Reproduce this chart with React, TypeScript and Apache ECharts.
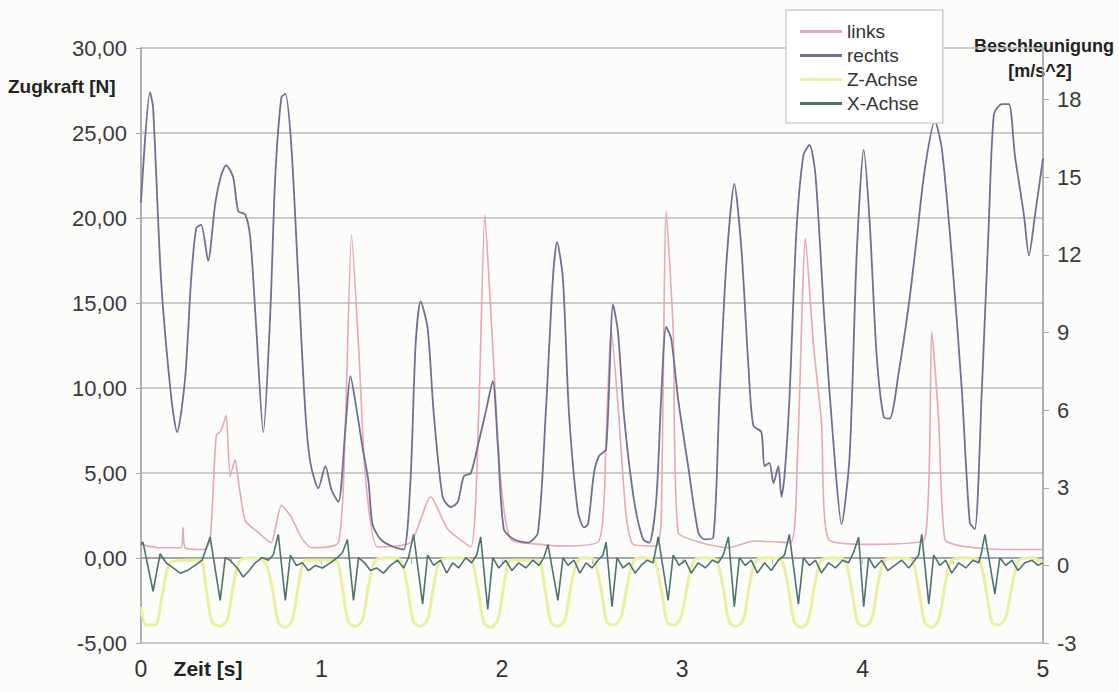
import React, { useEffect, useRef } from "react";
import * as echarts from "echarts";

// Zugkraft [N] (left axis)
const rechtsData: [number, number][] = [
  [0.000,20.9],[0.050,27.4],[0.067,26.5],[0.111,16.4],[0.167,9.5],[0.200,7.4],[0.244,10.5],[0.278,16.4],[0.306,19.4],[0.333,19.6],[0.372,17.5],[0.411,20.8],[0.444,22.5],[0.472,23.1],[0.511,22.4],[0.539,20.4],[0.578,20.2],[0.606,18.8],[0.639,13.5],[0.678,7.4],[0.717,14.5],[0.744,22.4],[0.778,27.1],[0.800,27.3],[0.833,24.3],[0.872,16.4],[0.911,8.6],[0.939,5.6],[0.983,4.1],[1.022,5.4],[1.056,4.0],[1.094,3.3],[1.133,7.6],[1.161,10.7],[1.194,8.8],[1.228,6.5],[1.261,4.5],[1.283,2.0],[1.328,1.1],[1.400,0.65],[1.456,0.5],[1.494,4.6],[1.522,12.5],[1.550,15.1],[1.589,13.5],[1.622,8.6],[1.672,3.6],[1.717,3.0],[1.756,3.3],[1.789,4.8],[1.828,5.0],[1.867,6.6],[1.911,8.6],[1.950,10.4],[1.978,6.6],[2.011,1.7],[2.067,1.1],[2.144,0.9],[2.200,1.5],[2.244,8.6],[2.283,16.4],[2.306,18.6],[2.339,16.4],[2.372,8.6],[2.422,2.7],[2.456,1.8],[2.478,2.0],[2.511,5.0],[2.539,6.0],[2.578,6.4],[2.617,14.9],[2.644,13.3],[2.678,8.3],[2.733,3.4],[2.783,1.1],[2.817,0.9],[2.856,3.4],[2.883,9.3],[2.911,13.6],[2.939,12.9],[2.978,9.3],[3.033,5.4],[3.089,1.5],[3.122,1.1],[3.172,1.2],[3.206,9.3],[3.244,17.2],[3.289,22.0],[3.328,18.2],[3.367,11.3],[3.394,7.8],[3.439,7.4],[3.456,5.4],[3.483,5.6],[3.506,4.4],[3.533,5.4],[3.550,3.6],[3.567,4.8],[3.594,9.3],[3.633,19.2],[3.672,23.7],[3.706,24.3],[3.739,22.5],[3.789,13.9],[3.844,6.0],[3.883,2.0],[3.928,6.0],[3.967,17.8],[4.006,24.0],[4.039,19.8],[4.078,11.9],[4.117,8.3],[4.150,8.2],[4.200,10.9],[4.256,14.9],[4.300,18.8],[4.344,22.8],[4.400,25.7],[4.439,24.1],[4.494,17.8],[4.550,9.9],[4.594,2.1],[4.622,1.7],[4.661,9.9],[4.700,19.8],[4.728,26.1],[4.772,26.7],[4.811,26.7],[4.844,23.7],[4.894,20.2],[4.922,17.8],[4.956,20.2],[5.000,23.5]
];

const linksData: [number, number][] = [
  [0,0.8],[0.1,0.6],[0.222,0.6],[0.233,1.8],[0.244,0.6],[0.35,0.5],[0.383,1.0],[0.417,7.2],[0.444,7.5],[0.472,8.4],[0.494,4.8],[0.522,5.8],[0.539,4.6],[0.578,2.2],[0.650,1.5],[0.722,0.9],[0.750,2.0],[0.778,3.1],[0.833,2.4],[0.889,1.2],[0.944,0.6],[1.094,0.9],[1.133,8.0],[1.167,19.0],[1.206,12.5],[1.244,4.8],[1.311,0.65],[1.494,0.9],[1.606,3.6],[1.700,1.7],[1.828,0.65],[1.872,8.5],[1.906,20.2],[1.939,14.5],[1.994,4.6],[2.050,1.1],[2.217,0.8],[2.328,0.7],[2.539,1.0],[2.578,7.0],[2.606,13.5],[2.644,9.0],[2.689,2.5],[2.728,0.8],[2.856,0.7],[2.883,2.0],[2.911,20.4],[2.950,13.4],[2.978,1.5],[3.106,0.9],[3.25,0.6],[3.4,1.0],[3.600,0.9],[3.639,6.0],[3.683,18.8],[3.728,12.5],[3.772,8.0],[3.811,1.1],[4.050,0.8],[4.344,1.1],[4.383,13.3],[4.422,8.0],[4.456,1.1],[4.550,0.7],[4.772,0.5],[5.0,0.5]
];

// Beschleunigung [m/s^2] (right axis)
const zAchseData: [number, number][] = [
  [0.000,-1.6],[0.028,-2.3],[0.078,-2.3],[0.117,-1.2],[0.161,0.1],[0.244,0.2],
  [0.328,0.2],[0.361,-0.9],[0.394,-2.2],[0.439,-2.35],[0.478,-2.1],[0.511,-0.8],[0.550,0.2],[0.617,0.3],
  [0.689,0.1],[0.728,-0.9],[0.761,-2.2],[0.800,-2.4],[0.839,-2.1],[0.872,-0.8],[0.911,0.2],[0.994,0.2],
  [1.078,0.2],[1.117,-0.9],[1.150,-2.2],[1.189,-2.35],[1.228,-2.1],[1.261,-0.8],[1.300,0.2],[1.372,0.3],
  [1.439,0.2],[1.478,-0.9],[1.511,-2.2],[1.550,-2.35],[1.589,-2.1],[1.622,-0.8],[1.661,0.2],[1.744,0.3],
  [1.828,0.2],[1.867,-0.9],[1.900,-2.2],[1.939,-2.4],[1.978,-2.1],[2.011,-0.8],[2.050,0.2],[2.122,0.2],
  [2.200,0.2],[2.239,-0.9],[2.272,-2.2],[2.311,-2.35],[2.350,-2.1],[2.383,-0.8],[2.422,0.2],[2.467,0.3],
  [2.511,0.2],[2.550,-0.9],[2.583,-2.2],[2.622,-2.3],[2.661,-2.0],[2.694,-0.8],[2.733,0.2],[2.789,0.3],
  [2.844,0.2],[2.883,-0.9],[2.917,-2.2],[2.956,-2.3],[2.994,-2.0],[3.028,-0.8],[3.067,0.2],[3.128,0.3],
  [3.189,0.2],[3.228,-0.9],[3.261,-2.2],[3.300,-2.35],[3.339,-2.1],[3.372,-0.8],[3.411,0.2],[3.483,0.3],
  [3.550,0.2],[3.589,-0.9],[3.622,-2.2],[3.661,-2.4],[3.700,-2.1],[3.733,-0.8],[3.772,0.2],[3.839,0.3],
  [3.900,0.2],[3.939,-0.9],[3.972,-2.2],[4.011,-2.35],[4.050,-2.1],[4.083,-0.8],[4.122,0.2],[4.200,0.3],
  [4.272,0.2],[4.311,-0.9],[4.344,-2.2],[4.383,-2.4],[4.422,-2.1],[4.456,-0.8],[4.494,0.2],[4.567,0.3],
  [4.644,0.2],[4.683,-0.9],[4.717,-2.2],[4.756,-2.3],[4.794,-2.0],[4.828,-0.8],[4.867,0.2],[4.939,0.3],[5.000,0.1]
];

const xAchseData: [number, number][] = [
  [0.000,0.8],[0.011,0.9],[0.067,-1.0],[0.106,0.45],[0.139,0.1],[0.178,-0.1],[0.217,-0.3],[0.256,-0.2],[0.300,0.0],[0.339,0.2],
  [0.383,1.1],[0.439,-1.35],[0.467,0.3],[0.494,0.2],[0.533,-0.1],[0.567,-0.45],[0.600,-0.2],[0.633,0.1],[0.672,0.3],[0.706,0.2],[0.733,0.4],
  [0.761,1.2],[0.800,-1.35],[0.828,0.4],[0.861,0.0],[0.894,0.1],[0.928,-0.2],[0.967,0.0],[1.006,-0.1],[1.050,0.1],[1.089,0.3],[1.117,0.5],
  [1.144,1.0],[1.178,-1.35],[1.206,0.3],[1.239,0.1],[1.272,-0.2],[1.306,-0.1],[1.344,-0.3],[1.383,0.0],[1.422,0.2],[1.456,-0.1],[1.483,0.3],
  [1.511,1.2],[1.561,-1.5],[1.589,0.4],[1.622,0.0],[1.661,0.2],[1.694,-0.3],[1.728,0.1],[1.761,-0.1],[1.800,0.3],[1.833,0.1],[1.861,0.4],
  [1.883,1.1],[1.922,-1.7],[1.950,0.3],[1.983,-0.1],[2.022,0.2],[2.056,-0.2],[2.094,0.1],[2.133,-0.1],[2.172,0.2],[2.206,0.0],[2.233,0.3],
  [2.256,0.8],[2.311,-1.35],[2.339,0.3],[2.367,0.0],[2.400,0.2],[2.433,-0.3],[2.467,0.1],[2.500,-0.1],[2.533,0.2],[2.561,0.4],
  [2.578,0.9],[2.611,-1.6],[2.639,0.3],[2.672,-0.1],[2.706,0.1],[2.739,-0.3],[2.772,0.0],[2.806,0.2],[2.839,0.1],
  [2.867,1.1],[2.922,-1.35],[2.950,0.4],[2.983,0.0],[3.017,0.2],[3.050,-0.3],[3.089,0.1],[3.128,-0.1],[3.167,0.2],[3.200,0.1],[3.228,0.4],
  [3.256,1.1],[3.289,-1.6],[3.317,0.3],[3.350,0.0],[3.383,0.2],[3.417,-0.3],[3.456,0.1],[3.494,-0.2],[3.533,0.2],[3.567,0.4],
  [3.594,1.2],[3.644,-1.5],[3.672,0.3],[3.706,0.0],[3.739,0.2],[3.772,-0.3],[3.811,0.1],[3.850,-0.1],[3.889,0.2],[3.922,0.1],[3.950,0.5],
  [3.978,1.1],[4.006,-1.6],[4.033,0.3],[4.067,-0.1],[4.106,0.2],[4.139,-0.2],[4.178,0.0],[4.217,0.2],[4.256,-0.1],[4.289,0.2],[4.311,0.4],
  [4.328,1.2],[4.367,-1.5],[4.394,0.4],[4.428,0.0],[4.461,0.2],[4.494,-0.3],[4.533,0.1],[4.572,-0.1],[4.611,0.2],[4.644,0.1],[4.656,0.4],
  [4.678,1.2],[4.733,-1.1],[4.761,0.3],[4.794,0.0],[4.828,0.2],[4.861,-0.2],[4.900,0.1],[4.939,0.2],[4.972,0.0],[5.000,0.1]
];

const seriesNames = ["links", "rechts", "Z-Achse", "X-Achse"];
const FONT = "Liberation Sans, Arial, sans-serif";

export default function App() {
  const ref = useRef<HTMLDivElement>(null);
  useEffect(() => {
    if (!ref.current) return;
    const chart = echarts.init(ref.current, null, { renderer: "svg" });
    chart.setOption({
      animation: false,
      backgroundColor: "#fcfcfb",
      grid: { left: 141, right: 76, top: 48, bottom: 49 },
      legend: {
        data: seriesNames,
        orient: "vertical",
        left: 786,
        top: 10,
        itemWidth: 42,
        itemHeight: 3,
        itemGap: 5,
        icon: "rect",
        padding: [12, 24, 10, 14],
        backgroundColor: "#ffffff",
        borderColor: "#cfcfcf",
        borderWidth: 1.5,
        textStyle: { fontFamily: FONT, fontSize: 19, color: "#333", lineHeight: 18 },
      },
      xAxis: {
        type: "value",
        min: 0,
        max: 5,
        interval: 0.5,
        axisLine: { lineStyle: { color: "#999", width: 1.5 } },
        axisTick: { show: true, length: 6, lineStyle: { color: "#aaa" } },
        splitLine: { show: false },
        axisLabel: {
          fontFamily: FONT,
          fontSize: 23,
          color: "#333",
          margin: 14,
          formatter: (v: number) => (Number.isInteger(v) ? String(v) : ""),
        },
      },
      yAxis: [
        {
          type: "value",
          min: -5,
          max: 30,
          interval: 5,
          position: "left",
          axisLine: { show: true, lineStyle: { color: "#999", width: 1.5 } },
          axisTick: { show: true, length: 5, lineStyle: { color: "#aaa" } },
          splitLine: { show: true, lineStyle: { color: "#bcbcbc", width: 1.5 } },
          axisLabel: {
            fontFamily: FONT,
            fontSize: 22,
            color: "#3a3a3a",
            margin: 14,
            formatter: (v: number) => v.toFixed(2).replace(".", ","),
          },
        },
        {
          type: "value",
          min: -3,
          max: 20,
          interval: 3,
          position: "right",
          axisLine: { show: true, lineStyle: { color: "#999", width: 1.5 } },
          axisTick: { show: true, length: 6, lineStyle: { color: "#aaa" } },
          splitLine: { show: false },
          axisLabel: {
            fontFamily: FONT,
            fontSize: 22,
            color: "#3a3a3a",
            margin: 14,
            showMaxLabel: false,
          },
        },
      ],
      series: [
        {
          name: "links",
          type: "line",
          yAxisIndex: 0,
          data: linksData,
          showSymbol: false,
          smooth: 0.2,
          lineStyle: { color: "#e8a8b8", width: 1.6 },
          itemStyle: { color: "#e8a8b8" },
        },
        {
          name: "rechts",
          type: "line",
          yAxisIndex: 0,
          data: rechtsData,
          showSymbol: false,
          smooth: 0.25,
          lineStyle: { color: "#707090", width: 1.8 },
          itemStyle: { color: "#707090" },
        },
        {
          name: "Z-Achse",
          type: "line",
          yAxisIndex: 1,
          data: zAchseData,
          showSymbol: false,
          smooth: 0.3,
          lineStyle: { color: "#eaf0a0", width: 3 },
          itemStyle: { color: "#eaf0a0" },
        },
        {
          name: "X-Achse",
          type: "line",
          yAxisIndex: 1,
          data: xAchseData,
          showSymbol: false,
          smooth: false,
          lineStyle: { color: "#4d7370", width: 1.6 },
          itemStyle: { color: "#4d7370" },
        },
      ],
      graphic: [
        {
          type: "text",
          left: 8,
          top: 77,
          style: { text: "Zugkraft [N]", fontFamily: FONT, fontSize: 19, fontWeight: "bold", fill: "#222" },
        },
        {
          type: "text",
          x: 1044,
          y: 46,
          style: { text: "Beschleunigung", fontFamily: FONT, fontSize: 18, fontWeight: "bold", fill: "#222", align: "center", verticalAlign: "middle" },
        },
        {
          type: "text",
          x: 1040,
          y: 71,
          style: { text: "[m/s^2]", fontFamily: FONT, fontSize: 18, fontWeight: "bold", fill: "#222", align: "center", verticalAlign: "middle" },
        },
        {
          type: "text",
          x: 208,
          y: 668,
          style: { text: "Zeit [s]", fontFamily: FONT, fontSize: 21, fontWeight: "bold", fill: "#222", align: "center", verticalAlign: "middle" },
        },
      ],
    });
    return () => chart.dispose();
  }, []);
  return (
    <div
      ref={ref}
      style={{ position: "fixed", left: 0, top: 0, width: 1119, height: 692 }}
    />
  );
}
